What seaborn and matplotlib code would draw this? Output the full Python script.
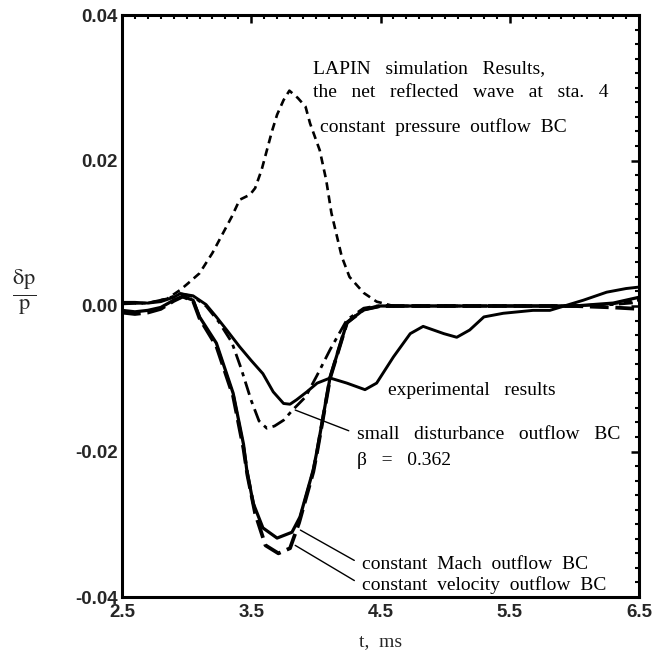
import numpy as np
import pandas as pd
import matplotlib
matplotlib.use("Agg")
import matplotlib.pyplot as plt
from matplotlib.ticker import MultipleLocator, FormatStrFormatter
import seaborn as sns

# ---- data ----
exp_t = [2.5, 2.6, 2.7, 2.8, 2.9, 2.95, 3.05, 3.15, 3.23, 3.31, 3.41, 3.50, 3.59, 3.67, 3.75, 3.80,
         3.85, 3.93, 4.01, 4.11, 4.24, 4.38, 4.47, 4.60, 4.73, 4.83, 4.99, 5.09, 5.19, 5.30, 5.45,
         5.68, 5.81, 5.94, 6.07, 6.25, 6.40, 6.5]
exp_y = [0.0005, 0.0005, 0.0004, 0.0006, 0.0012, 0.0017, 0.0014, 0.0002, -0.0015, -0.0033, -0.0056,
         -0.0075, -0.0093, -0.0118, -0.0134, -0.0135, -0.0129, -0.0118, -0.0106, -0.0099, -0.0106,
         -0.0115, -0.0106, -0.0070, -0.0038, -0.0028, -0.0038, -0.0043, -0.0033, -0.0015, -0.0010,
         -0.0006, -0.0006, 0.0001, 0.0008, 0.0019, 0.0024, 0.0026]

cp_t = [2.5, 2.7, 2.85, 2.95, 3.01, 3.10, 3.20, 3.35, 3.41, 3.49, 3.53, 3.58, 3.66, 3.70, 3.75,
        3.795, 3.86, 3.92, 3.955, 4.03, 4.08, 4.12, 4.20, 4.26, 4.37, 4.47, 4.6, 5.0, 5.5, 6.0,
        6.3, 6.5]
cp_y = [0.0003, 0.0004, 0.0010, 0.0022, 0.0031, 0.0045, 0.0073, 0.0123, 0.0146, 0.0153, 0.0162,
        0.0187, 0.0240, 0.0263, 0.0283, 0.0296, 0.0286, 0.0274, 0.0251, 0.0214, 0.0173, 0.0128,
        0.0068, 0.0040, 0.0018, 0.0006, 0.0, 0.0, 0.0, 0.0, 0.0003, 0.0008]

sd_t = [2.5, 2.7, 2.85, 2.95, 3.05, 3.15, 3.25, 3.35, 3.42, 3.50, 3.56, 3.62, 3.68, 3.75, 3.82,
        3.92, 4.01, 4.11, 4.24, 4.37, 4.47, 4.7, 5.0, 5.5, 6.0, 6.3, 6.5]
sd_y = [0.0003, 0.0004, 0.0010, 0.0017, 0.0013, 0.0000, -0.0022, -0.0050, -0.0085, -0.0130,
        -0.0158, -0.0168, -0.0165, -0.0157, -0.0143, -0.0125, -0.0095, -0.0060, -0.0019, -0.0003,
        0.0, 0.0, 0.0, 0.0, 0.0, 0.0002, 0.0005]

m_t = [2.5, 2.6, 2.7, 2.8, 2.9, 2.97, 3.05, 3.10, 3.23, 3.36, 3.44, 3.465, 3.515, 3.59, 3.70,
       3.815, 3.877, 3.98, 4.01, 4.11, 4.24, 4.37, 4.5, 5.0, 5.5, 6.0, 6.3, 6.5]
m_y = [-0.0006, -0.0008, -0.0006, -0.0002, 0.0008, 0.0013, 0.0008, -0.0015, -0.0051, -0.0120,
       -0.0190, -0.0225, -0.0271, -0.0305, -0.0319, -0.0311, -0.0290, -0.0225, -0.0198, -0.0098,
       -0.0023, -0.0005, 0.0, 0.0, 0.0, 0.0, 0.0004, 0.0012]

v_t = [2.5, 2.6, 2.7, 2.8, 2.9, 2.97, 3.05, 3.10, 3.23, 3.36, 3.44, 3.47, 3.53, 3.61, 3.71, 3.80,
       3.87, 3.98, 4.01, 4.11, 4.24, 4.37, 4.5, 5.0, 5.5, 6.0, 6.3, 6.5]
v_y = [-0.0009, -0.0011, -0.0009, -0.0004, 0.0007, 0.0013, 0.0007, -0.0017, -0.0055, -0.0124,
       -0.0196, -0.0232, -0.0285, -0.0329, -0.0340, -0.0333, -0.0298, -0.0228, -0.0200, -0.0099,
       -0.0023, -0.0005, 0.0, 0.0, 0.0, 0.0, -0.0002, -0.0004]

x_ticks = [2.5, 3.5, 4.5, 5.5, 6.5]
y_ticks = [-0.04, -0.02, 0.00, 0.02, 0.04]

# ---- style ----
sns.set_style("white")
plt.rcParams["mathtext.fontset"] = "stix"
SERIF = "Liberation Serif"
SANS = "Liberation Sans"

fig = plt.figure(figsize=(6.61, 6.60), dpi=100)
ax = fig.add_axes([122 / 661, 1 - 597 / 660, (639 - 122) / 661, (597 - 15) / 660])

sns.lineplot(x=v_t, y=v_y, ax=ax, color="black", lw=2.7, linestyle=(0, (5, 1.8)))
sns.lineplot(x=m_t, y=m_y, ax=ax, color="black", lw=2.3, linestyle="-")
sns.lineplot(x=sd_t, y=sd_y, ax=ax, color="black", lw=2.0, linestyle=(0, (5, 2, 1.5, 2)))
sns.lineplot(x=cp_t, y=cp_y, ax=ax, color="black", lw=1.9, linestyle=(0, (3, 2)))
sns.lineplot(x=exp_t, y=exp_y, ax=ax, color="black", lw=2.1, linestyle="-")

ax.set_xlim(2.5, 6.5)
ax.set_ylim(-0.04, 0.04)
ax.set_xticks(x_ticks)
ax.set_yticks(y_ticks)
ax.xaxis.set_minor_locator(MultipleLocator(0.1))
ax.yaxis.set_minor_locator(MultipleLocator(0.002))
ax.yaxis.set_major_formatter(FormatStrFormatter("%.2f"))
ax.set_xticklabels([f"{v:.1f}" for v in x_ticks])
ax.tick_params(which="both", direction="in", top=True, right=True, color="black")
ax.tick_params(which="major", length=6, width=1.8)
ax.tick_params(axis="y", which="major", pad=3)
ax.tick_params(axis="x", which="major", pad=5)
ax.tick_params(which="minor", length=3, width=1.5)
for lab in ax.get_xticklabels() + ax.get_yticklabels():
    lab.set_fontfamily(SANS)
    lab.set_fontweight("bold")
    lab.set_fontsize(13.5)
for s in ax.spines.values():
    s.set_color("black")
    s.set_linewidth(2.2)

ax.set_xlabel("t,  ms", fontfamily=SERIF, fontsize=14, labelpad=9)
ax.set_ylabel("")
fig.text(0.037, 1 - 292 / 660, r"$\frac{\mathrm{\delta p}}{\mathrm{p}}$", fontsize=23,
         ha="center", va="center")

tk = dict(fontfamily=SERIF, fontsize=14, color="black")
ax.text(3.98, 0.0327, "LAPIN   simulation   Results,", va="center", ha="left", **tk)
ax.text(3.98, 0.0293, "the   net   reflected   wave   at   sta.   4", va="center", ha="left", **tk)
ax.text(4.03, 0.0246, "constant  pressure  outflow  BC", va="center", ha="left", **tk)
ax.text(4.56, -0.0116, "experimental   results", va="center", ha="left", **tk)
ax.text(4.32, -0.0212, "\u03b2   =   0.362", va="center", ha="left", **tk)

lk = dict(arrowprops=dict(arrowstyle="-", color="black", lw=1.0, shrinkA=4, shrinkB=0,
                          relpos=(0, 0.5)),
          va="center", ha="left", **tk)
ax.annotate("small   disturbance   outflow   BC", xy=(3.84, -0.0143), xytext=(4.32, -0.0176), **lk)
ax.annotate("constant  Mach  outflow  BC", xy=(3.88, -0.0308), xytext=(4.36, -0.0356), **lk)
ax.annotate("constant  velocity  outflow  BC", xy=(3.84, -0.0329), xytext=(4.36, -0.0384), **lk)

fig.savefig("out.png", dpi=100)
